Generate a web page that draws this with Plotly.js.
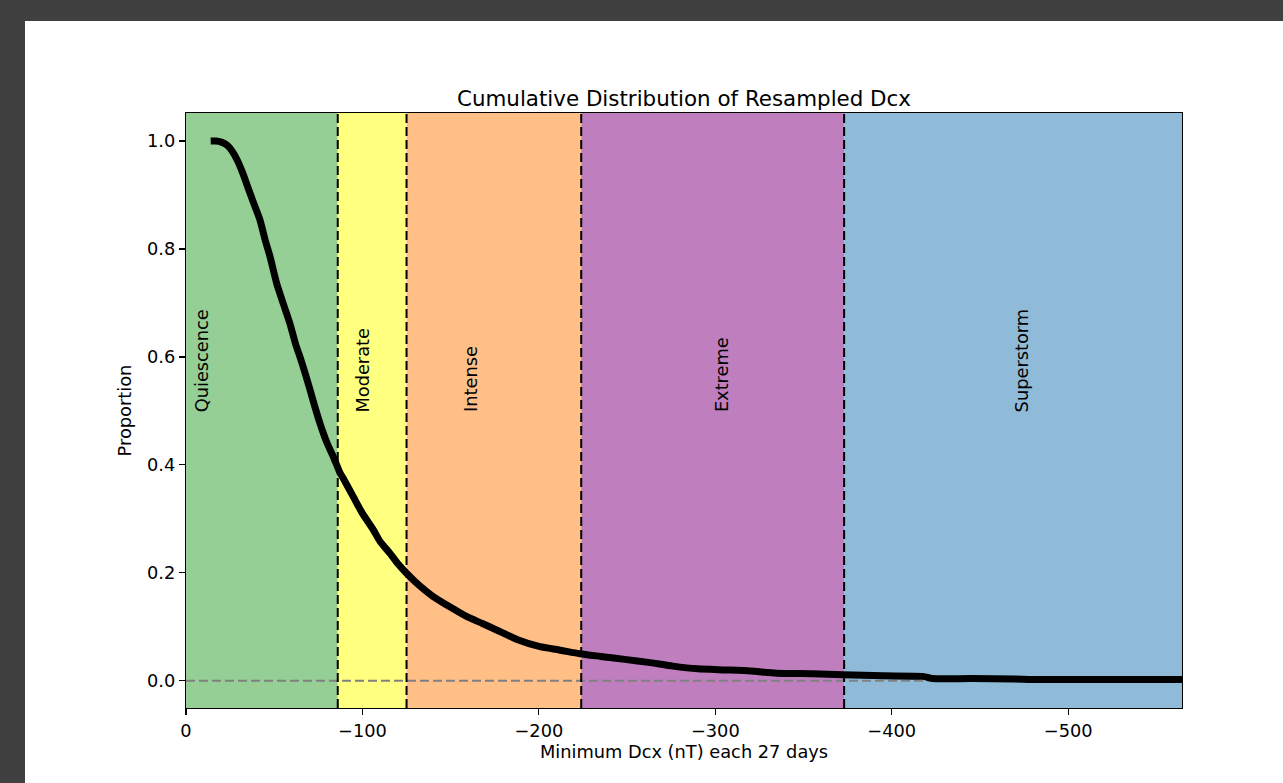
<!DOCTYPE html>
<html>
<head>
<meta charset="utf-8">
<script src="https://cdn.plot.ly/plotly-3.0.1.min.js"></script>
<style>
  html, body { margin: 0; padding: 0; background: #404040; width: 1283px; height: 783px; overflow: hidden; }
  #frame { position: absolute; left: 25px; top: 21px; width: 1258px; height: 762px; background: #ffffff; }
  #chart { width: 1258px; height: 762px; }
</style>
</head>
<body>
<div id="frame"><div id="chart"></div></div>
<script>
// Curve: minimum Dcx (nT) vs cumulative proportion
const dcx = [-14, -17, -20, -23, -26, -29, -32, -35, -38, -41.9, -45, -47.6, -51.4, -55.1, -58.9, -62, -64.6, -67.5, -70.3, -73, -75.9, -77.8, -80, -83.5, -87.3, -89.1, -94.8, -100, -106.1, -110, -115.6, -120, -125, -132, -140.1, -150, -159, -168, -176, -188, -200.6, -211.5, -223.2, -235, -249.7, -262, -276, -290, -306, -320, -334.7, -355, -372.4, -395, -417.7, -423, -445, -470, -480, -564.5];
const proportion = [1.0, 1.0, 0.998, 0.993, 0.982, 0.965, 0.942, 0.915, 0.888, 0.854, 0.815, 0.786, 0.736, 0.699, 0.662, 0.625, 0.600, 0.57, 0.539, 0.508, 0.477, 0.459, 0.44, 0.415, 0.385, 0.375, 0.341, 0.31, 0.280, 0.258, 0.236, 0.217, 0.199, 0.177, 0.156, 0.136, 0.119, 0.106, 0.094, 0.076, 0.063, 0.057, 0.050, 0.045, 0.039, 0.034, 0.027, 0.022, 0.020, 0.018, 0.014, 0.013, 0.011, 0.009, 0.008, 0.004, 0.004, 0.003, 0.002, 0.002];

// Storm categories
const bandNames = ["Quiescence", "Moderate", "Intense", "Extreme", "Superstorm"];
const bandStart = [0, -86, -125, -224, -373];
const bandEnd = [-86, -125, -224, -373, -564.5];
const bandColors = ["#95cf95", "#ffff80", "#ffbf86", "#bf7fbf", "#8fbbd9"];
const labelX = [-8.9, -100.3, -160.9, -303.5, -473.4];
const boundaries = [-86, -125, -224, -373];

const xTicks = [0, -100, -200, -300, -400, -500];
const yTicks = [0.0, 0.2, 0.4, 0.6, 0.8, 1.0];

const font = "DejaVu Sans, sans-serif";
const fs = 17.8;

const shapes = [];
for (let i = 0; i < bandNames.length; i++) {
  shapes.push({type: "rect", xref: "x", yref: "paper", x0: bandStart[i], x1: bandEnd[i], y0: 0, y1: 1,
    fillcolor: bandColors[i], line: {width: 0}, layer: "below"});
}
boundaries.forEach(b => shapes.push({type: "line", xref: "x", yref: "paper", x0: b, x1: b, y0: 0, y1: 1,
  line: {color: "#000000", width: 2, dash: "9px,4px"}, layer: "above"}));
shapes.push({type: "line", xref: "paper", yref: "y", x0: 0, x1: 1, y0: 0, y1: 0,
  line: {color: "#808080", width: 2, dash: "9px,4px"}, layer: "below"});

const annotations = bandNames.map((n, i) => ({
  x: labelX[i], y: 0.494, xref: "x", yref: "y", text: n, showarrow: false,
  textangle: -90, xanchor: "center", yanchor: "bottom",
  font: {family: font, size: fs, color: "#000000"}
}));

const trace = {
  x: dcx, y: proportion, type: "scatter", mode: "lines",
  line: {color: "#000000", width: 7, shape: "spline", smoothing: 0.6}, hoverinfo: "skip"
};

const layout = {
  width: 1258, height: 762,
  margin: {l: 161, r: 101, t: 92, b: 75},
  paper_bgcolor: "rgba(0,0,0,0)", plot_bgcolor: "#ffffff",
  showlegend: false,
  font: {family: font, size: fs, color: "#000000"},
  title: {text: "Cumulative Distribution of Resampled Dcx", font: {family: font, size: 21.4, color: "#000000"},
    x: 0.5, xref: "paper", xanchor: "center", y: 1, yref: "paper", yanchor: "bottom", pad: {b: 7}},
  xaxis: {
    range: [0, -564.5], tickvals: xTicks, ticktext: xTicks.map(v => v === 0 ? "0" : "\u2212" + Math.abs(v)),
    ticks: "outside", ticklen: 6, tickwidth: 1.2, tickcolor: "#000000",
    showline: true, mirror: true, linecolor: "#000000", linewidth: 1.2,
    showgrid: false, zeroline: false,
    tickfont: {family: font, size: fs, color: "#000000"},
    title: {text: "Minimum Dcx (nT) each 27 days", font: {family: font, size: fs, color: "#000000"}, standoff: 5}
  },
  yaxis: {
    range: [-0.0506, 1.052], tickvals: yTicks, tickformat: ".1f",
    ticks: "outside", ticklen: 6, tickwidth: 1.2, tickcolor: "#000000",
    showline: true, mirror: true, linecolor: "#000000", linewidth: 1.2,
    showgrid: false, zeroline: false,
    tickfont: {family: font, size: fs, color: "#000000"},
    title: {text: "Proportion", font: {family: font, size: fs, color: "#000000"}, standoff: 10}
  },
  shapes: shapes,
  annotations: annotations
};

Plotly.newPlot("chart", [trace], layout, {displayModeBar: false, staticPlot: true});
</script>
</body>
</html>
